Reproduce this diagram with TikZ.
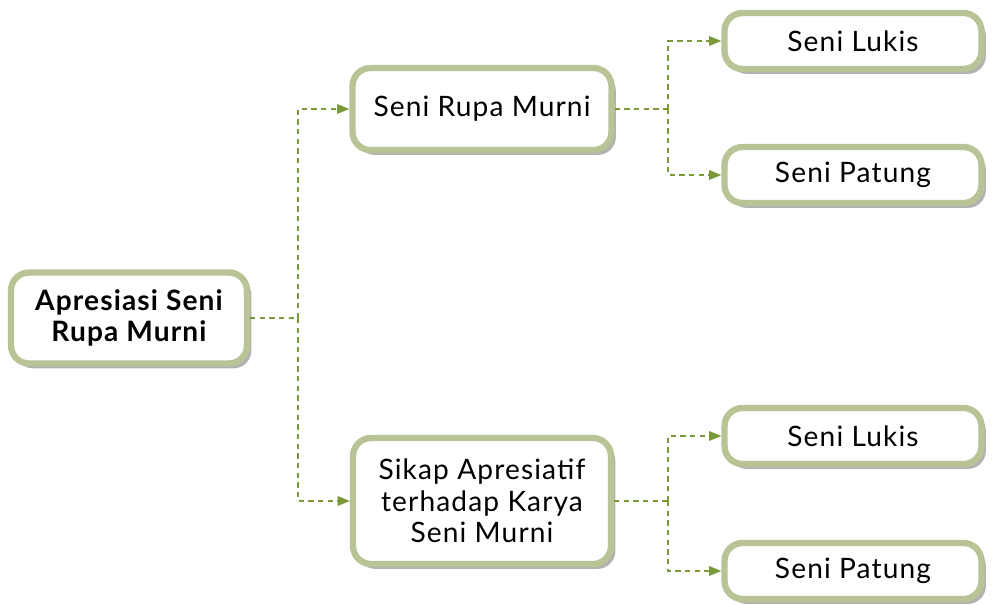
\documentclass[tikz,border=0pt]{standalone}
\usepackage{fontspec}
\setmainfont{Lato}[LetterSpace=4]
\usetikzlibrary{arrows.meta,shadows}

\definecolor{boxline}{RGB}{184,195,150}
\definecolor{linkgreen}{RGB}{122,154,58}

\tikzset{
    box/.style={draw=boxline, line width=3.6pt, rounded corners=0.36cm, fill=white,
        align=center, font=\fontsize{16}{18}\selectfont,
        drop shadow={shadow xshift=2.5pt, shadow yshift=-2.8pt, fill=black!60, opacity=0.5}},
    leaf/.style={box, minimum width=5.14cm, minimum height=1.12cm},
    link/.style={draw=linkgreen, line width=0.8pt, dash pattern=on 3pt off 2.5pt},
    tip/.style={link, -{Triangle[length=7pt, width=5.5pt]}}
}

\begin{document}
\begin{tikzpicture}[x=0.02cm, y=-0.02cm]
    \useasboundingbox (0,0) rectangle (992,605);

    % boxes
    \node[box, minimum width=4.72cm, minimum height=1.82cm, font=\fontsize{16}{18}\selectfont\bfseries]
        (root) at (129,318) {Apresiasi Seni\\Rupa Murni};
    \node[box, minimum width=5.18cm, minimum height=1.64cm] (rupa) at (482,109) {Seni Rupa Murni};
    \node[box, minimum width=5.16cm, minimum height=2.52cm] (sikap) at (482,501)
        {Sikap Apresiatif\\terhadap Karya\\Seni Murni};
    \node[leaf] (lukisA) at (853,41) {Seni Lukis};
    \node[leaf] (patungA) at (853,175) {Seni Patung};
    \node[leaf] (lukisB) at (853,436) {Seni Lukis};
    \node[leaf] (patungB) at (853,571) {Seni Patung};

    % junctions
    \coordinate (j1) at (298,318);
    \coordinate (j2) at (668,109);
    \coordinate (j3) at (668,501);

    % connectors
    \draw[link] (root.east) -- (j1);
    \draw[tip] (j1) |- (rupa.west);
    \draw[tip] (j1) |- (sikap.west);
    \draw[link] (rupa.east) -- (j2);
    \draw[tip] (j2) |- (lukisA.west);
    \draw[tip] (j2) |- (patungA.west);
    \draw[link] (sikap.east) -- (j3);
    \draw[tip] (j3) |- (lukisB.west);
    \draw[tip] (j3) |- (patungB.west);
\end{tikzpicture}
\end{document}
